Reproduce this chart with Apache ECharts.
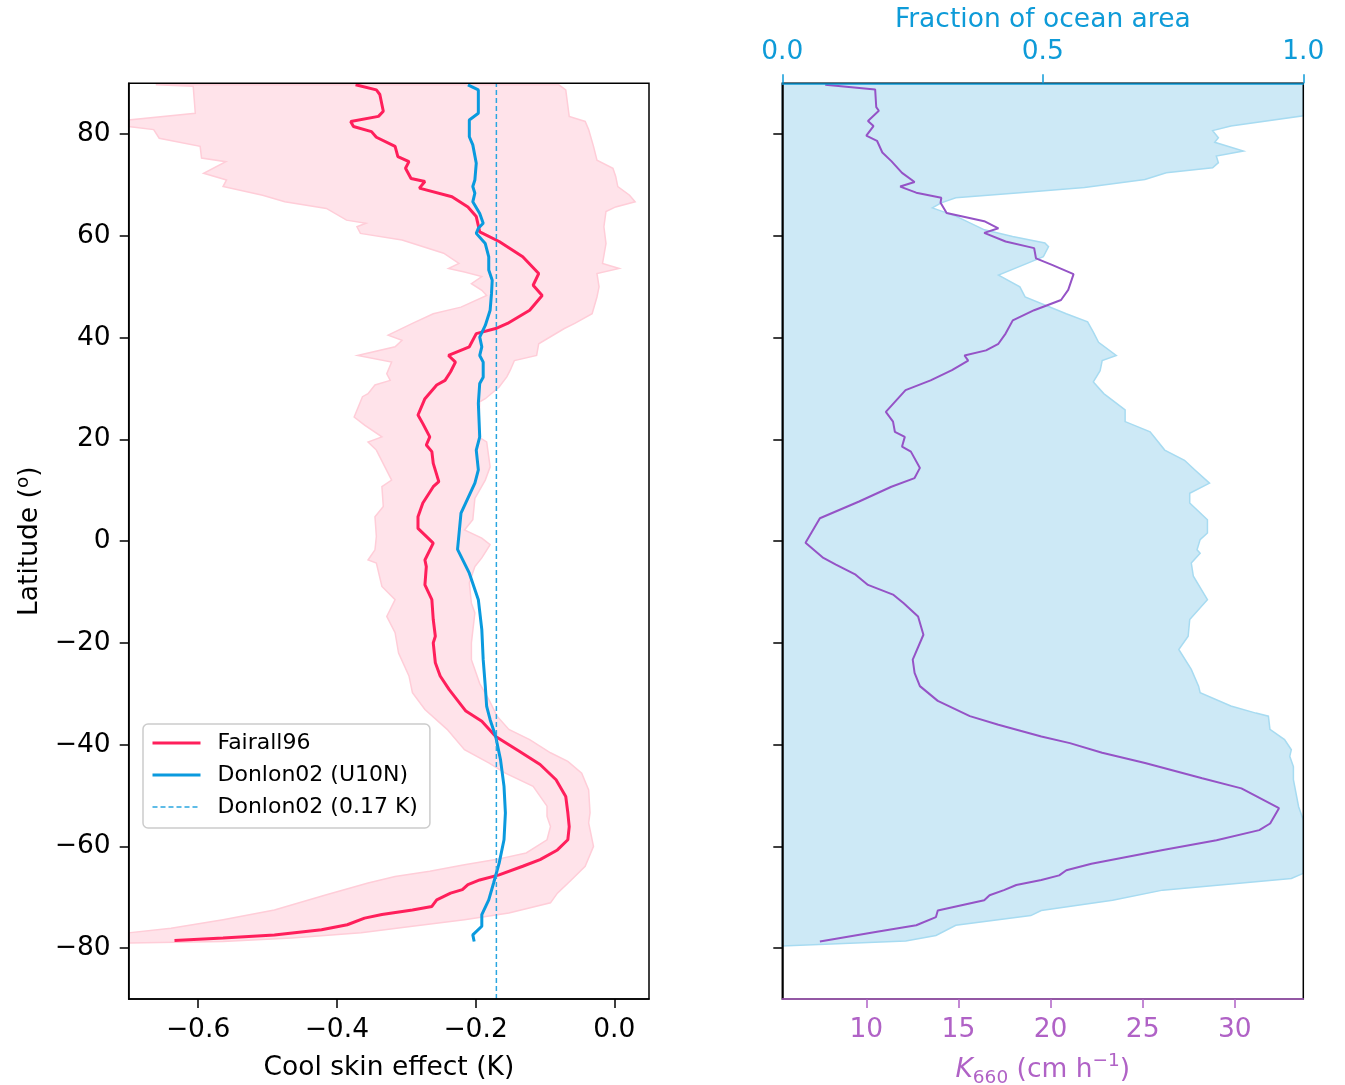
<!DOCTYPE html>
<html>
<head>
<meta charset="utf-8">
<title>Cool skin effect and K660 by latitude</title>
<script src="https://cdn.jsdelivr.net/npm/echarts@6.0.0/dist/echarts.min.js"></script>
<style>
html, body { margin: 0; padding: 0; background: #fff; }
#main { width: 1345px; height: 1085px; }
</style>
</head>
<body>
<div id="main"></div>
<script>
// values, each point is [latitude, value]
var fairall96 = [[89.7,-0.373],[88.7,-0.343],[87.8,-0.338],[84.5,-0.333],[83.5,-0.340],[82.5,-0.380],[81.5,-0.376],[80.5,-0.350],[79.4,-0.343],[77.6,-0.316],[75.6,-0.312],[74.6,-0.296],[73.3,-0.301],[71.3,-0.293],[70.7,-0.273],[69.4,-0.281],[67.7,-0.234],[65.7,-0.211],[63.8,-0.199],[60.8,-0.194],[58.9,-0.166],[55.9,-0.132],[52.6,-0.109],[50.3,-0.117],[48.3,-0.104],[45.4,-0.122],[42.8,-0.154],[41.8,-0.171],[40.8,-0.199],[38.2,-0.209],[36.5,-0.239],[35.2,-0.229],[33.3,-0.236],[31.6,-0.244],[30.7,-0.256],[28.0,-0.273],[24.8,-0.283],[23.1,-0.276],[20.5,-0.266],[18.9,-0.271],[17.6,-0.263],[15.3,-0.261],[11.7,-0.253],[10.7,-0.261],[7.5,-0.276],[4.8,-0.283],[2.5,-0.283],[-0.4,-0.261],[-3.7,-0.273],[-5.0,-0.271],[-8.6,-0.273],[-11.5,-0.263],[-15.4,-0.261],[-18.7,-0.258],[-20.0,-0.261],[-23.9,-0.258],[-26.5,-0.251],[-29.2,-0.238],[-33.4,-0.214],[-35.4,-0.191],[-38.4,-0.171],[-41.3,-0.137],[-43.9,-0.107],[-46.9,-0.084],[-50.2,-0.070],[-53.4,-0.067],[-56.1,-0.065],[-58.7,-0.067],[-60.7,-0.082],[-62.6,-0.107],[-63.9,-0.132],[-65.6,-0.166],[-66.6,-0.194],[-67.5,-0.211],[-68.5,-0.219],[-69.2,-0.236],[-70.5,-0.256],[-71.8,-0.263],[-72.5,-0.291],[-73.4,-0.335],[-74.1,-0.360],[-75.4,-0.385],[-76.4,-0.422],[-77.4,-0.490],[-78.0,-0.564],[-78.5,-0.634]];

var donlon02 = [[89.7,-0.211],[88.7,-0.196],[84.1,-0.196],[82.8,-0.209],[79.5,-0.209],[77.9,-0.204],[74.3,-0.199],[71.0,-0.201],[69.7,-0.204],[68.4,-0.201],[66.7,-0.204],[64.4,-0.194],[62.5,-0.189],[61.5,-0.196],[60.5,-0.199],[58.5,-0.186],[55.9,-0.181],[53.3,-0.181],[51.3,-0.176],[48.7,-0.177],[45.4,-0.179],[42.4,-0.186],[40.1,-0.194],[38.2,-0.191],[36.5,-0.194],[35.2,-0.189],[32.2,-0.189],[31.0,-0.194],[27.1,-0.196],[20.5,-0.194],[17.9,-0.199],[14.0,-0.196],[11.4,-0.201],[5.5,-0.221],[-1.6,-0.226],[-6.3,-0.209],[-11.5,-0.196],[-17.4,-0.191],[-23.3,-0.189],[-28.5,-0.186],[-32.5,-0.184],[-35.1,-0.179],[-38.4,-0.171],[-43.0,-0.164],[-48.2,-0.159],[-53.4,-0.157],[-58.7,-0.159],[-63.3,-0.166],[-67.2,-0.174],[-70.5,-0.181],[-73.4,-0.191],[-75.7,-0.191],[-77.4,-0.204],[-78.7,-0.202]];

var donlonConst = -0.17;

// spread of Fairall96 (left and right edge of the shaded band)
var bandLow = [[89.7,-0.661],[89.4,-0.607],[84.1,-0.604],[82.8,-0.700],[81.5,-0.700],[80.9,-0.664],[79.2,-0.656],[77.6,-0.597],[75.3,-0.595],[74.6,-0.560],[72.3,-0.592],[71.0,-0.559],[69.7,-0.564],[68.0,-0.507],[66.7,-0.475],[65.4,-0.415],[63.1,-0.386],[62.5,-0.358],[61.8,-0.371],[60.5,-0.366],[59.2,-0.306],[56.6,-0.246],[54.6,-0.224],[53.6,-0.239],[52.9,-0.216],[52.0,-0.191],[50.6,-0.206],[49.3,-0.191],[48.3,-0.184],[46.0,-0.221],[44.7,-0.261],[42.8,-0.291],[40.5,-0.326],[39.5,-0.306],[38.2,-0.316],[36.5,-0.370],[35.2,-0.321],[32.9,-0.328],[31.6,-0.323],[30.7,-0.345],[29.0,-0.355],[28.4,-0.363],[24.4,-0.375],[22.8,-0.360],[20.5,-0.335],[19.5,-0.355],[17.9,-0.343],[12.0,-0.321],[10.7,-0.335],[6.8,-0.333],[4.8,-0.345],[0.9,-0.343],[-1.7,-0.345],[-3.7,-0.355],[-4.3,-0.343],[-8.9,-0.335],[-11.5,-0.316],[-14.8,-0.328],[-18.0,-0.316],[-22.0,-0.311],[-26.5,-0.296],[-29.8,-0.291],[-33.1,-0.273],[-37.0,-0.241],[-41.0,-0.216],[-43.6,-0.181],[-45.6,-0.157],[-48.2,-0.117],[-52.1,-0.097],[-54.1,-0.097],[-56.1,-0.092],[-58.7,-0.097],[-61.3,-0.127],[-62.6,-0.171],[-63.6,-0.216],[-64.9,-0.266],[-65.9,-0.316],[-67.2,-0.355],[-69.5,-0.415],[-72.5,-0.490],[-74.4,-0.564],[-76.1,-0.639],[-77.0,-0.700],[-78.7,-0.700]];

var bandHigh = [[89.7,-0.080],[88.7,-0.070],[83.5,-0.065],[82.5,-0.042],[80.9,-0.037],[77.6,-0.030],[74.9,-0.025],[73.3,-0.002],[71.7,0.002],[69.7,0.005],[68.0,0.022],[66.7,0.030],[65.7,0.002],[64.8,-0.012],[61.8,-0.015],[58.5,-0.012],[54.6,-0.017],[53.6,0.007],[52.6,-0.025],[50.0,-0.022],[48.0,-0.025],[44.7,-0.032],[42.8,-0.057],[41.8,-0.072],[38.8,-0.109],[36.5,-0.112],[35.5,-0.144],[33.6,-0.150],[32.3,-0.155],[30.3,-0.166],[28.0,-0.186],[27.4,-0.194],[20.5,-0.196],[19.5,-0.184],[14.6,-0.179],[12.0,-0.186],[8.4,-0.201],[4.2,-0.204],[2.2,-0.216],[0.6,-0.191],[-0.7,-0.179],[-3.3,-0.191],[-5.0,-0.201],[-8.2,-0.209],[-12.2,-0.206],[-14.1,-0.201],[-20.0,-0.206],[-23.3,-0.206],[-28.0,-0.194],[-31.1,-0.181],[-34.4,-0.169],[-37.0,-0.152],[-39.0,-0.122],[-41.6,-0.092],[-43.3,-0.067],[-45.6,-0.047],[-48.9,-0.037],[-53.4,-0.035],[-55.4,-0.037],[-60.0,-0.030],[-63.9,-0.042],[-66.6,-0.062],[-69.2,-0.082],[-71.1,-0.092],[-73.1,-0.152],[-74.4,-0.216],[-75.7,-0.291],[-77.0,-0.365],[-78.0,-0.465],[-78.7,-0.564],[-79.0,-0.700]];

// right panel: gas transfer velocity and ocean area fraction
var k660 = [[89.7,7.77],[88.8,10.48],[85.3,10.54],[84.6,10.68],[82.6,10.09],[81.6,10.39],[79.7,10.0],[78.7,10.58],[76.4,10.87],[74.7,11.36],[72.4,11.94],[70.6,12.62],[69.7,11.84],[68.5,12.71],[67.5,14.07],[66.5,14.03],[64.5,14.36],[62.9,16.4],[61.5,17.17],[60.6,16.4],[58.9,17.56],[57.6,19.11],[55.6,19.21],[54.3,20.08],[52.5,21.25],[49.4,20.96],[47.4,20.57],[45.4,19.11],[43.4,17.95],[40.8,17.56],[38.8,17.17],[37.5,16.5],[36.5,15.33],[35.5,15.53],[33.6,14.65],[31.6,13.49],[29.7,12.13],[25.4,11.06],[23.5,11.45],[21.5,11.55],[20.5,12.09],[18.6,11.94],[17.6,12.42],[14.4,12.91],[12.4,12.62],[10.7,11.36],[7.8,9.61],[4.5,7.48],[-0.3,6.70],[-3.3,7.67],[-4.6,8.35],[-6.6,9.42],[-8.6,10.09],[-10.5,11.45],[-12.2,12.03],[-14.8,12.81],[-18.4,13.1],[-23.3,12.52],[-25.9,12.62],[-28.5,12.91],[-31.4,13.88],[-34.4,15.62],[-36.1,17.17],[-38.4,19.5],[-39.7,21.05],[-41.6,22.8],[-43.6,25.13],[-46.6,28.23],[-48.6,30.36],[-52.5,32.4],[-55.5,31.92],[-56.8,31.33],[-58.8,29.01],[-60.7,26.1],[-63.4,22.22],[-64.7,20.86],[-65.7,20.47],[-66.6,19.5],[-67.6,18.14],[-68.6,17.47],[-69.6,16.69],[-70.6,16.4],[-72.6,13.88],[-73.9,13.78],[-75.5,12.71],[-76.8,10.58],[-78.7,7.48]];

var oceanFrac = [[90,1.0],[83.6,1.0],[81.6,0.861],[80.7,0.826],[79.3,0.837],[78.4,0.830],[76.7,0.885],[75.7,0.833],[74.4,0.837],[73.4,0.826],[72.4,0.737],[71.1,0.696],[69.5,0.580],[68.5,0.456],[67.5,0.333],[66.5,0.305],[65.5,0.288],[63.9,0.333],[61.2,0.388],[59.9,0.442],[58.6,0.504],[57.9,0.511],[55.9,0.501],[54.6,0.470],[52.3,0.415],[50.0,0.456],[48.0,0.466],[44.7,0.545],[43.1,0.586],[41.1,0.597],[39.1,0.607],[36.5,0.641],[35.5,0.614],[33.5,0.610],[31.3,0.597],[29.0,0.617],[25.8,0.658],[23.5,0.658],[21.5,0.706],[17.9,0.734],[15.9,0.772],[14.0,0.792],[11.4,0.820],[9.4,0.782],[7.5,0.782],[4.2,0.816],[1.6,0.816],[0.3,0.802],[-1.7,0.796],[-2.4,0.802],[-4.3,0.785],[-6.9,0.789],[-11.5,0.816],[-15.4,0.782],[-18.7,0.779],[-21.3,0.761],[-25.2,0.785],[-28.5,0.799],[-29.8,0.802],[-32.4,0.861],[-33.8,0.909],[-34.4,0.933],[-37.0,0.936],[-39.0,0.964],[-41.0,0.977],[-42.3,0.974],[-44.3,0.981],[-46.9,0.981],[-52.2,0.991],[-54.8,1.0],[-65.3,1.0],[-66.3,0.977],[-68.6,0.730],[-70.6,0.634],[-72.6,0.497],[-73.6,0.477],[-75.5,0.333],[-77.5,0.295],[-78.6,0.237],[-79.6,0.0]];

var latTicks = [-80, -60, -40, -20, 0, 20, 40, 60, 80];
var skinTicks = [-0.6, -0.4, -0.2, 0.0];
var kTicks = [10, 15, 20, 25, 30];

var FONT = 'DejaVu Sans';
var FS = 26.5;      // tick and axis label size
var RED = '#ff1f5b';
var BLUE = '#0a9ade';
var SKY = '#2aa6e0';
var PURPLE = '#9553c6';
var PURPLE_TXT = '#b062c6';
var TOP_BLUE = '#0e9bd8';

// [lat, val] -> [val, lat] for horizontal value axis
function flip(arr) {
    return arr.map(function (p) { return [p[1], p[0]]; });
}
function fmtMinus(v, dec) {
    var s = Math.abs(v).toFixed(dec);
    return (v < 0 ? '\u2212' : '') + s;
}

function bandRender(params, api) {
    var pts = [];
    for (var i = 0; i < bandLow.length; i++) pts.push(api.coord([bandLow[i][1], bandLow[i][0]]));
    for (var j = bandHigh.length - 1; j >= 0; j--) pts.push(api.coord([bandHigh[j][1], bandHigh[j][0]]));
    return {
        type: 'polygon',
        shape: { points: pts },
        style: { fill: '#ffe3ea', stroke: '#ffcdd8', lineWidth: 1.5 }
    };
}

function oceanRender(params, api) {
    var pts = [api.coord([0, oceanFrac[0][0]])];
    for (var i = 0; i < oceanFrac.length; i++) pts.push(api.coord([oceanFrac[i][1], oceanFrac[i][0]]));
    pts.push(api.coord([0, oceanFrac[oceanFrac.length - 1][0]]));
    return {
        type: 'polygon',
        shape: { points: pts },
        style: { fill: '#cde9f6', stroke: '#a7dbf1', lineWidth: 1.5 }
    };
}

var tickStyle = { color: '#000', width: 1.5 };
var lblStyle = { fontSize: FS, color: '#000', fontFamily: FONT };

var chart = echarts.init(document.getElementById('main'), null, { renderer: 'canvas' });

var option = {
    backgroundColor: '#fff',
    animation: false,
    textStyle: { fontFamily: FONT },
    grid: [
        { left: 128.7, top: 83.3, width: 520.3, height: 915.7, outerBoundsMode: 'none', containLabel: false,
          show: true, borderColor: '#000', borderWidth: 1.5, backgroundColor: 'rgba(0,0,0,0)', z: 10 },
        { left: 782.3, top: 83.3, width: 521, height: 915.7, outerBoundsMode: 'none', containLabel: false,
          show: true, borderColor: '#000', borderWidth: 1.5, backgroundColor: 'rgba(0,0,0,0)', z: 10 }
    ],
    legend: {
        left: 143, top: 724,
        orient: 'vertical',
        padding: [8, 12, 10, 8],
        itemGap: 10,
        itemWidth: 48,
        itemHeight: 14,
        itemStyle: { opacity: 0 },
        backgroundColor: 'rgba(255,255,255,0.8)',
        borderColor: '#cccccc',
        borderWidth: 1.5,
        borderRadius: 5,
        textStyle: { fontSize: 22, color: '#000', fontFamily: FONT, padding: [0, 0, 0, 12] },
        data: [
            { name: 'Fairall96', lineStyle: { width: 3 } },
            { name: 'Donlon02 (U10N)', lineStyle: { width: 3 } },
            { name: 'Donlon02 (0.17 K)', lineStyle: { width: 1.5 } }
        ]
    },
    xAxis: [
        {
            gridIndex: 0, type: 'value', position: 'bottom', min: -0.7, max: 0.05, z: 11,
            axisLine: { show: true, onZero: false, lineStyle: tickStyle },
            axisTick: { show: true, length: 9, customValues: skinTicks, lineStyle: tickStyle },
            axisLabel: { customValues: skinTicks, margin: 18, fontSize: FS, color: '#000', fontFamily: FONT,
                formatter: function (v) { return fmtMinus(v, 1); } },
            splitLine: { show: false },
            name: 'Cool skin effect (K)', nameLocation: 'middle', nameGap: 56,
            nameTextStyle: lblStyle
        },
        {
            gridIndex: 1, type: 'value', position: 'bottom', min: 5.44, max: 33.72, z: 11,
            axisLine: { show: true, onZero: false, lineStyle: { color: PURPLE_TXT, width: 1.5 } },
            axisTick: { show: true, length: 9, customValues: kTicks, lineStyle: { color: PURPLE_TXT, width: 1.5 } },
            axisLabel: { customValues: kTicks, margin: 18, fontSize: FS, color: PURPLE_TXT, fontFamily: FONT },
            splitLine: { show: false },
            name: '{k|K}{sub|660}{n| (cm h}{sup|\u22121}{n|)}', nameLocation: 'middle', nameGap: 53,
            nameTextStyle: {
                color: PURPLE_TXT, fontFamily: FONT, fontSize: FS,
                rich: {
                    n: { fontSize: FS, color: PURPLE_TXT, fontFamily: FONT, lineHeight: 36 },
                    k: { fontSize: FS, color: PURPLE_TXT, fontFamily: FONT, fontStyle: 'italic', lineHeight: 36 },
                    sub: { fontSize: 18.5, color: PURPLE_TXT, fontFamily: FONT, lineHeight: 18, verticalAlign: 'bottom' },
                    sup: { fontSize: 18.5, color: PURPLE_TXT, fontFamily: FONT, lineHeight: 18, verticalAlign: 'top' }
                }
            }
        },
        {
            gridIndex: 1, type: 'value', position: 'top', min: 0, max: 1, interval: 0.5, z: 11,
            axisLine: { show: true, onZero: false, lineStyle: { color: TOP_BLUE, width: 1.5 } },
            axisTick: { show: true, length: 9, lineStyle: { color: TOP_BLUE, width: 1.5 } },
            axisLabel: { margin: 18, fontSize: FS, color: TOP_BLUE, fontFamily: FONT,
                formatter: function (v) { return v.toFixed(1); } },
            splitLine: { show: false },
            name: 'Fraction of ocean area', nameLocation: 'middle', nameGap: 49,
            nameTextStyle: { fontSize: FS, color: TOP_BLUE, fontFamily: FONT }
        }
    ],
    yAxis: [
        {
            gridIndex: 0, type: 'value', min: -90, max: 90, z: 11,
            axisLine: { show: true, onZero: false, lineStyle: tickStyle },
            axisTick: { show: true, length: 9, customValues: latTicks, lineStyle: tickStyle },
            axisLabel: { customValues: latTicks, margin: 18, fontSize: FS, color: '#000', fontFamily: FONT,
                formatter: function (v) { return fmtMinus(v, 0); } },
            splitLine: { show: false },
            name: '{n|Latitude (}{sup|o}{n|)}', nameLocation: 'middle', nameGap: 83,
            nameTextStyle: {
                fontSize: FS, color: '#000', fontFamily: FONT,
                rich: {
                    n: { fontSize: FS, color: '#000', fontFamily: FONT, lineHeight: 32 },
                    sup: { fontSize: 18.5, color: '#000', fontFamily: FONT, lineHeight: 18, verticalAlign: 'top' }
                }
            }
        },
        {
            gridIndex: 1, type: 'value', min: -90, max: 90, z: 11,
            axisLine: { show: true, onZero: false, lineStyle: tickStyle },
            axisTick: { show: true, length: 9, customValues: latTicks, lineStyle: tickStyle },
            axisLabel: { show: false, customValues: latTicks },
            splitLine: { show: false }
        }
    ],
    series: [
        {
            type: 'custom', name: 'band', xAxisIndex: 0, yAxisIndex: 0, z: 1, silent: true,
            renderItem: bandRender, data: [[-0.3, 0]], encode: { x: 0, y: 1 }
        },
        {
            type: 'line', name: 'Fairall96', xAxisIndex: 0, yAxisIndex: 0, z: 3,
            data: flip(fairall96), symbol: 'none', showSymbol: false,
            lineStyle: { color: RED, width: 3 }, itemStyle: { color: RED }
        },
        {
            type: 'line', name: 'Donlon02 (U10N)', xAxisIndex: 0, yAxisIndex: 0, z: 3,
            data: flip(donlon02), symbol: 'none', showSymbol: false,
            lineStyle: { color: BLUE, width: 3 }, itemStyle: { color: BLUE }
        },
        {
            type: 'line', name: 'Donlon02 (0.17 K)', xAxisIndex: 0, yAxisIndex: 0, z: 3,
            data: [[donlonConst, -90], [donlonConst, 90]], symbol: 'none', showSymbol: false,
            lineStyle: { color: SKY, width: 1.5, type: [5, 3] }, itemStyle: { color: SKY }
        },
        {
            type: 'custom', name: 'ocean', xAxisIndex: 2, yAxisIndex: 1, z: 1, silent: true,
            renderItem: oceanRender, data: [[0.5, 0]], encode: { x: 0, y: 1 }
        },
        {
            type: 'line', name: 'K660', xAxisIndex: 1, yAxisIndex: 1, z: 3,
            data: flip(k660), symbol: 'none', showSymbol: false,
            lineStyle: { color: PURPLE, width: 2 }, itemStyle: { color: PURPLE }
        }
    ]
};

chart.setOption(option);
</script>
</body>
</html>
